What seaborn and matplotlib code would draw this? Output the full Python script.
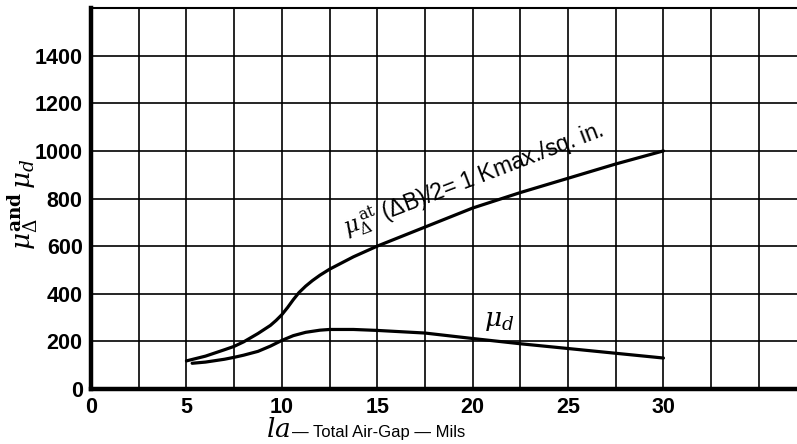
import matplotlib
matplotlib.use("Agg")
import matplotlib.pyplot as plt
import seaborn as sns
import pandas as pd

sns.set_theme(style="white")
plt.rcParams['font.family'] = ['Liberation Sans', 'DejaVu Sans']
plt.rcParams['mathtext.fontset'] = 'dejavuserif'
plt.rcParams['text.color'] = 'black'
plt.rcParams['xtick.color'] = 'black'
plt.rcParams['ytick.color'] = 'black'

# ============================================================
#                   DATA
# ============================================================
gap_delta = [5.0, 6.0, 7.0, 7.5, 8.0, 8.75, 9.4, 9.7, 10.0, 10.3, 10.6, 10.9, 11.25, 11.6,
             12.0, 12.5, 13.75, 15.0, 17.5, 20.0, 22.5, 25.0, 27.5, 30.0]
mu_delta = [118, 138, 165, 179, 198, 233, 267, 288, 312, 342, 375, 405, 432, 455,
            478, 503, 555, 600, 680, 760, 825, 885, 945, 1000]

gap_d = [5.3, 6.0, 7.0, 7.5, 8.0, 8.75, 9.4, 10.0, 10.6, 11.25, 12.0, 12.5, 13.75, 15.0,
         17.5, 20.0, 22.5, 25.0, 27.5, 30.0]
mu_d = [108, 113, 125, 133, 142, 158, 180, 204, 224, 238, 247, 250, 250, 246,
        235, 212, 190, 170, 150, 130]

x_ticks = [0, 5, 10, 15, 20, 25, 30]
y_ticks = [0, 200, 400, 600, 800, 1000, 1200, 1400]

df_delta = pd.DataFrame({'gap': gap_delta, 'mu': mu_delta})
df_d = pd.DataFrame({'gap': gap_d, 'mu': mu_d})

# ============================================================
#                   FIGURE
# ============================================================
fig = plt.figure(figsize=(7.97, 4.44), dpi=100)
ax = fig.add_axes([0.1142, 0.1239, 0.8858, 0.858])

sns.lineplot(data=df_delta, x='gap', y='mu', ax=ax, color='black', linewidth=2.3)
sns.lineplot(data=df_d, x='gap', y='mu', ax=ax, color='black', linewidth=2.3)

ax.set_xlim(0, 37)
ax.set_ylim(0, 1600)

# grid every 2.5 mils / 200 units
for gx in [i * 2.5 for i in range(1, 15)]:
    ax.axvline(gx, color='black', linewidth=1.2, zorder=0)
for gy in [i * 200 for i in range(1, 8)]:
    ax.axhline(gy, color='black', linewidth=1.2, zorder=0)

ax.set_xticks(x_ticks)
ax.set_xticklabels([str(v) for v in x_ticks])
ax.set_yticks(y_ticks)
ax.set_yticklabels([str(v) for v in y_ticks])
ax.tick_params(axis='both', which='both', length=0, labelsize=15.5)
ax.tick_params(axis='x', pad=6)
ax.tick_params(axis='y', pad=6)
for lbl in ax.get_xticklabels() + ax.get_yticklabels():
    lbl.set_fontweight('bold')

for side in ['left', 'bottom']:
    ax.spines[side].set_linewidth(3.2)
    ax.spines[side].set_color('black')
ax.spines['top'].set_linewidth(1.5)
ax.spines['top'].set_color('black')
ax.spines['right'].set_visible(False)

ax.set_xlabel('')
ax.set_ylabel('')

# axis labels
fig.text(0.028, 0.54, r'$\mu_\Delta^{\mathbf{and}}\,\mu_d$', rotation=90,
         ha='center', va='center', fontsize=19)
fig.text(0.364, 0.016, r'$la$', ha='right', va='baseline', fontsize=19)
fig.text(0.366, 0.016, '\u2014 Total Air-Gap \u2014 Mils',
         ha='left', va='baseline', fontsize=12, fontweight='medium')

# curve annotations
ax.text(13.4, 640, r'$\mu_\Delta^{\,\mathrm{at}}$' + ' (\u0394B)/2= 1 Kmax./sq. in.',
        rotation=21, rotation_mode='anchor', ha='left', va='baseline',
        fontsize=16.5)
ax.text(20.6, 265, r'$\mu_d$', fontsize=19, ha='left', va='baseline')

fig.savefig('out.png', dpi=100, facecolor='white')
